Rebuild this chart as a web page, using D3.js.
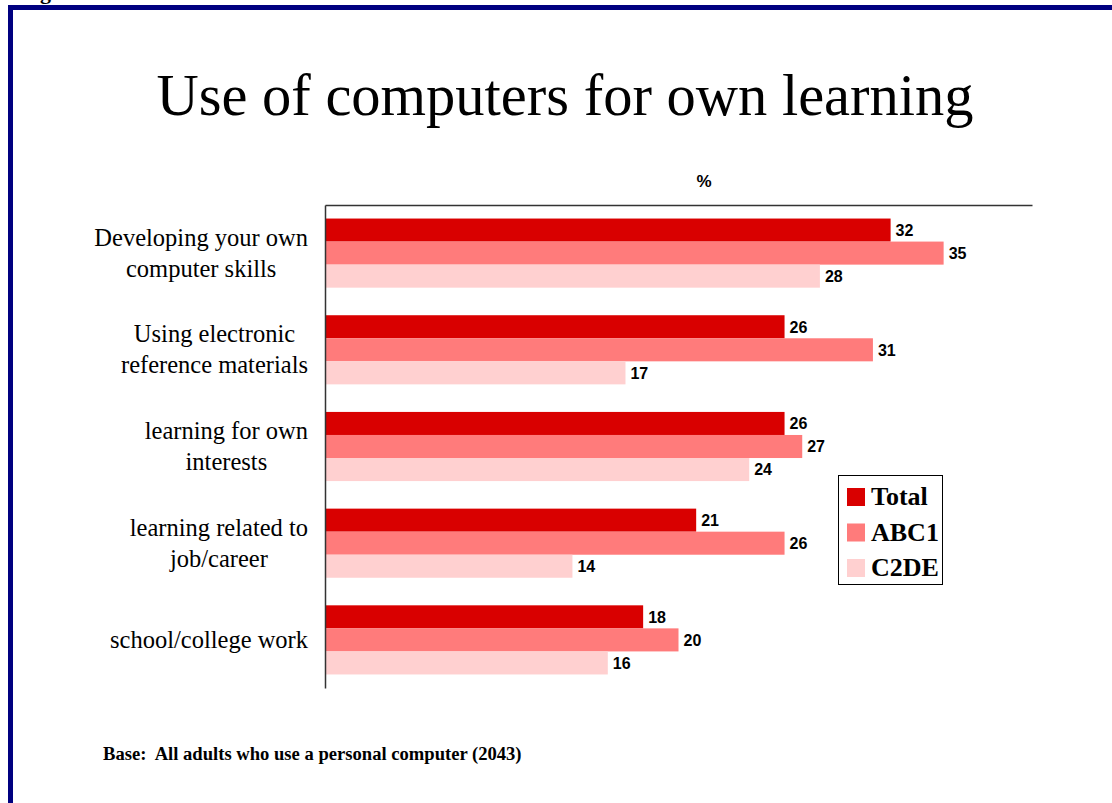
<!DOCTYPE html>
<html>
<head>
<meta charset="utf-8">
<script src="https://cdn.jsdelivr.net/npm/d3@7"></script>
<style>
  html, body { margin: 0; padding: 0; background: #fff; }
  svg { display: block; }
</style>
</head>
<body>
<svg id="chart" width="1112" height="803"></svg>
<script>
// Survey categories (each label split into its display lines)
const categories = [
  ["Developing your own", "computer skills"],
  ["Using electronic", "reference materials"],
  ["learning for own", "interests"],
  ["learning related to", "job/career"],
  ["school/college work"]
];
const seriesNames = ["Total", "ABC1", "C2DE"];
const totalValues = [32, 26, 26, 21, 18];
const abc1Values  = [35, 31, 27, 26, 20];
const c2deValues  = [28, 17, 24, 14, 16];
const seriesColors = ["#d90000", "#ff7b7b", "#ffd0d0"];

const seriesValues = [totalValues, abc1Values, c2deValues];
const rows = categories.map((c, i) => ({
  key: i,
  lines: c,
  values: seriesNames.map((s, j) => ({ series: s, value: seriesValues[j][i] }))
}));

const serif = "'Liberation Serif', 'Times New Roman', serif";
const sans = "'Liberation Sans', Arial, sans-serif";

const svg = d3.select("#chart");

// Slide frame
svg.append("rect")
  .attr("x", 10.5).attr("y", 7.5)
  .attr("width", 1200).attr("height", 900)
  .attr("fill", "none")
  .attr("stroke", "#000080")
  .attr("stroke-width", 5);

// Tail of the page heading running off the top edge
svg.append("text")
  .attr("x", 40).attr("y", -1)
  .attr("font-family", serif)
  .attr("font-weight", "bold")
  .attr("font-size", 22)
  .text("g");

// Title
svg.append("text")
  .attr("x", 565).attr("y", 115)
  .attr("text-anchor", "middle")
  .attr("font-family", serif)
  .attr("font-size", 58.5)
  .attr("fill", "#000")
  .text("Use of computers for own learning");

// Plot area
const plotLeft = 325, plotRight = 1032, plotTop = 205, plotBottom = 688;

const x = d3.scaleLinear().domain([0, 40]).range([plotLeft, plotRight]);
const y0 = d3.scaleBand().domain(rows.map(r => r.key)).range([plotTop, plotBottom]).paddingInner(0.285).paddingOuter(0.14);
const y1 = d3.scaleBand().domain(seriesNames).range([0, y0.bandwidth()]);
const color = d3.scaleOrdinal().domain(seriesNames).range(seriesColors);

// Unit label
svg.append("text")
  .attr("x", 704).attr("y", 187)
  .attr("text-anchor", "middle")
  .attr("font-family", sans)
  .attr("font-weight", "bold")
  .attr("font-size", 17)
  .text("%");

const groups = svg.append("g").selectAll("g")
  .data(rows)
  .join("g")
  .attr("transform", d => `translate(0,${y0(d.key)})`);

groups.selectAll("rect")
  .data(d => d.values)
  .join("rect")
  .attr("x", x(0))
  .attr("y", d => y1(d.series))
  .attr("width", d => x(d.value) - x(0))
  .attr("height", y1.bandwidth())
  .attr("fill", d => color(d.series));

groups.selectAll("text.val")
  .data(d => d.values)
  .join("text")
  .attr("class", "val")
  .attr("x", d => x(d.value) + 5)
  .attr("y", d => y1(d.series) + y1.bandwidth() / 2)
  .attr("dy", "0.36em")
  .attr("font-family", sans)
  .attr("font-weight", "bold")
  .attr("font-size", 16)
  .attr("fill", "#000")
  .text(d => d.value);

// Axes: a top line and a left line with no ticks
const xAxis = svg.append("g")
  .attr("transform", `translate(0,${plotTop})`)
  .call(d3.axisTop(x).tickValues([]).tickSizeOuter(0));
xAxis.select(".domain").attr("stroke", "#333").attr("stroke-width", 1.5);

const yAxis = svg.append("g")
  .attr("transform", `translate(${plotLeft},0)`)
  .call(d3.axisLeft(d3.scaleLinear().range([plotTop, plotBottom])).tickValues([]).tickSizeOuter(0));
yAxis.select(".domain").attr("stroke", "#333").attr("stroke-width", 1.5);

// Category labels: lines centred on each other, block right-aligned to the axis
const catLabels = svg.append("g").selectAll("text")
  .data(rows)
  .join("text")
  .attr("font-family", serif)
  .attr("font-size", 24.5)
  .attr("fill", "#000");

catLabels.each(function(d) {
  const t = d3.select(this);
  const n = d.lines.length;
  const lh = 31;
  const cy = y0(d.key) + y0.bandwidth() / 2;
  d.lines.forEach((line, i) => {
    t.append("tspan")
      .attr("y", cy + (i - (n - 1) / 2) * lh)
      .attr("dy", "0.33em")
      .text(line);
  });
  const tspans = t.selectAll("tspan").nodes();
  const maxW = d3.max(tspans, s => s.getComputedTextLength());
  t.attr("text-anchor", "middle");
  t.selectAll("tspan").attr("x", 308 - maxW / 2);
});

// Legend
const lg = svg.append("g").attr("transform", "translate(838,475)");
lg.append("rect")
  .attr("x", 0.5).attr("y", 0.5)
  .attr("width", 104).attr("height", 109)
  .attr("fill", "#fff")
  .attr("stroke", "#000")
  .attr("stroke-width", 1);
const items = lg.selectAll("g.item")
  .data(seriesNames)
  .join("g")
  .attr("class", "item")
  .attr("transform", (d, i) => `translate(9,${13 + i * 35.5})`);
items.append("rect")
  .attr("width", 18).attr("height", 18)
  .attr("fill", d => color(d));
items.append("text")
  .attr("x", 24).attr("y", 8)
  .attr("dy", "0.36em")
  .attr("font-family", serif)
  .attr("font-weight", "bold")
  .attr("font-size", 26)
  .text(d => d);

// Footnote
svg.append("text")
  .attr("x", 103).attr("y", 760)
  .attr("font-family", serif)
  .attr("font-weight", "bold")
  .attr("font-size", 18.6)
  .attr("xml:space", "preserve")
  .style("white-space", "pre")
  .text("Base:  All adults who use a personal computer (2043)");
</script>
</body>
</html>
